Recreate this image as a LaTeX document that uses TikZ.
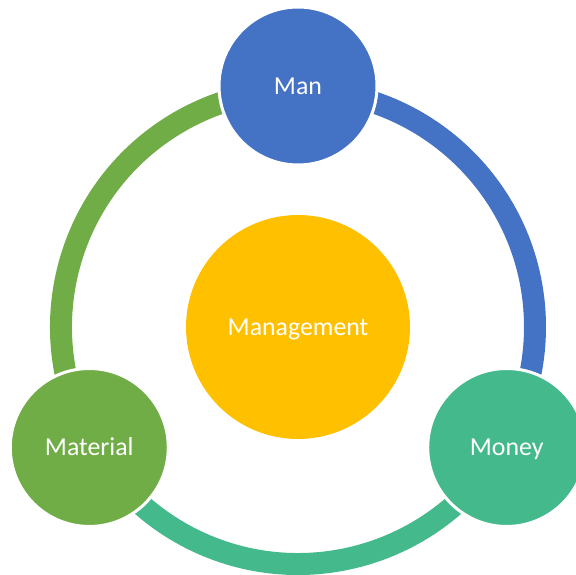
\documentclass[tikz,border=0pt]{standalone}
\usepackage{fontspec}
\setmainfont{Carlito}
\definecolor{manblue}{HTML}{4472C4}
\definecolor{moneygreen}{HTML}{44BA8C}
\definecolor{matgreen}{HTML}{70AD47}
\definecolor{mgmtgold}{HTML}{FFC000}

\begin{document}
\begin{tikzpicture}[x=0.02cm, y=0.02cm,
    ball/.style={circle, draw=white, line width=0.06cm, minimum size=3.16cm,
      inner sep=0pt, text=white, text height=9.5pt, text depth=0pt,
      font=\fontsize{14.7}{17}\selectfont},
    ring/.style={line width=0.44cm}]
    \clip (0,0) rectangle (576,575);
    \coordinate (c) at (298,248);

    % the ring, in three pieces
    \draw[ring, manblue] ([shift={(90:237)}]c) arc[start angle=90, end angle=-30, radius=237];
    \draw[ring, moneygreen] ([shift={(-30:237)}]c) arc[start angle=-30, end angle=-150, radius=237];
    \draw[ring, matgreen] ([shift={(210:237)}]c) arc[start angle=210, end angle=90, radius=237];

    \node[ball, fill=mgmtgold, draw=none, minimum size=4.48cm] (mgmt) at (c) {Management};

    \node[ball, fill=manblue] (man) at ([shift={(90:241)}]c) {Man};
    \node[ball, fill=moneygreen] (money) at ([shift={(-30:241)}]c) {Money};
    \node[ball, fill=matgreen] (material) at ([shift={(210:241)}]c) {Material};
\end{tikzpicture}
\end{document}
